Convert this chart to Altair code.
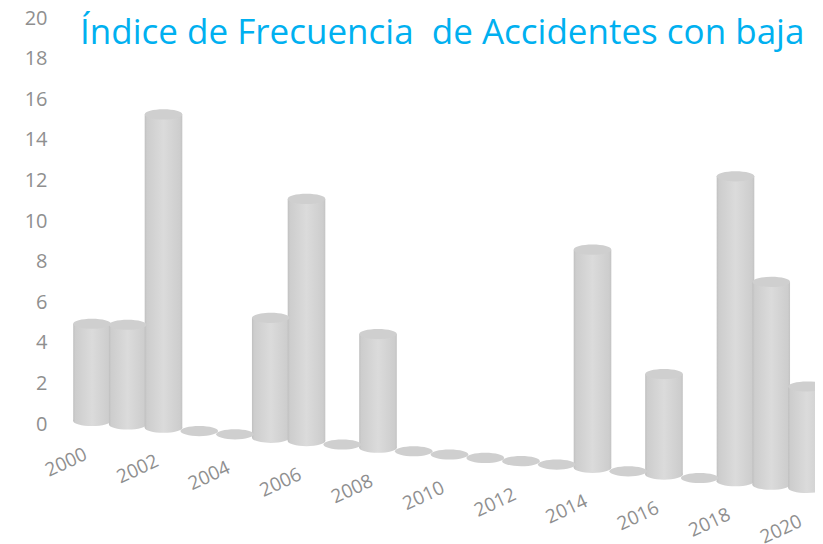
import altair as alt
import pandas as pd

years = list(range(2000, 2021))
heights = [4.79, 4.91, 15.43, 0, 0, 5.91, 11.93, 0, 5.6, 0, 0, 0, 0, 0, 10.75, 0, 4.95, 0, 15.02, 9.99, 5.0]
floors = [0.15, -0.02, -0.18, -0.35, -0.51, -0.68, -0.84, -1.01, -1.17, -1.34, -1.50,
          -1.67, -1.83, -2.00, -2.16, -2.33, -2.49, -2.66, -2.82, -2.99, -3.15]
y_ticks = list(range(0, 21, 2))
title_text = "Índice de Frecuencia\u00a0 de Accidentes con baja"

FONT = "Open Sans"
GREY = "#8f8f8f"
ELLIPSE = "M -1 0 A 1 0.27 0 1 1 1 0 A 1 0.27 0 1 1 -1 0 Z"

df = pd.DataFrame({"year": years, "height": heights, "floor": floors})
df["top"] = df["floor"] + df["height"]
df["label"] = df["year"].astype(str)
cols = df[df["height"] > 0]
labels = df[df["year"] % 2 == 0]

shade = alt.LinearGradient(
    gradient="linear", x1=0, x2=1, y1=0, y2=0,
    stops=[
        alt.GradientStop(offset=0, color="#c0c0c0"),
        alt.GradientStop(offset=0.06, color="#cdcdcd"),
        alt.GradientStop(offset=0.5, color="#dbdbdb"),
        alt.GradientStop(offset=0.94, color="#cdcdcd"),
        alt.GradientStop(offset=1, color="#c3c3c3"),
    ],
)

x = alt.X("year:Q", scale=alt.Scale(domain=[1998.769, 2020.224], nice=False, zero=False, padding=0), axis=None)
y_axis = alt.Axis(values=y_ticks, format="d", grid=False, domain=False, ticks=False, labelPadding=1,
                  labelFont=FONT, labelFontSize=20, labelColor=GREY, title=None)
y_scale = alt.Scale(domain=[-5.911, 20.493], nice=False, zero=False)

bottoms = alt.Chart(cols).mark_point(shape=ELLIPSE, size=1414, filled=True, fill=shade, opacity=1).encode(
    x=x, y=alt.Y("floor:Q", scale=y_scale, axis=y_axis))
bars = alt.Chart(cols).mark_bar(size=37.6, fill=shade).encode(
    x=x, y=alt.Y("floor:Q", scale=y_scale), y2="top:Q")
tops = alt.Chart(df).mark_point(shape=ELLIPSE, size=1414, filled=True, fill="#cfcfcf", opacity=1).encode(
    x=x, y=alt.Y("top:Q", scale=y_scale))
text = alt.Chart(labels).mark_text(font=FONT, fontSize=19, color=GREY, angle=335, dx=-40.9, dy=26.7,
                                   align="center", baseline="middle").encode(
    x=x, y=alt.Y("floor:Q", scale=y_scale), text="label:N")

chart = alt.layer(bottoms, bars, tops, text).properties(
    width=767, height=536,
    padding={"left": 40, "top": 0, "right": 0, "bottom": 0},
    autosize=alt.AutoSizeParams(type="none"),
    title=alt.TitleParams(title_text, font=FONT, fontSize=35, fontWeight="normal", color="#00b0f0",
                          anchor="start", frame="group", dx=32, dy=43, offset=0),
).configure_view(stroke=None)

chart.save("out.html", embed_options={"renderer": "svg", "actions": False})
